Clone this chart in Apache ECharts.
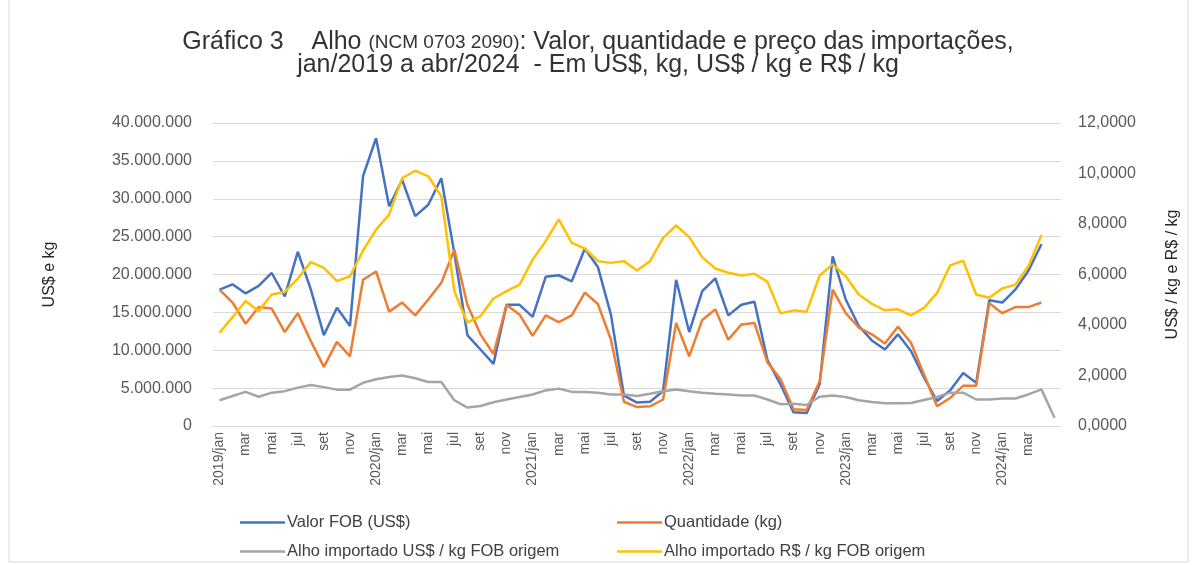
<!DOCTYPE html>
<html>
<head>
<meta charset="utf-8">
<script src="https://cdn.jsdelivr.net/npm/echarts@6/dist/echarts.min.js"></script>
<style>
  html, body { margin: 0; padding: 0; background: #fff; }
  #main { width: 1196px; height: 565px; }
</style>
</head>
<body>
<div id="main"></div>
<script>
// meses jan/2019 .. mai/2024 (65 categorias, a última só tem US$/kg)
var meses = ['jan', 'fev', 'mar', 'abr', 'mai', 'jun', 'jul', 'ago', 'set', 'out', 'nov', 'dez'];
var categorias = [];
for (var a = 2019; a <= 2024; a++) {
    for (var m = 0; m < 12; m++) {
        if (a === 2024 && m > 4) break;
        categorias.push(m === 0 ? a + '/jan' : meses[m]);
    }
}

// valores em milhões (eixo esquerdo)
var valorFOB = [18.0, 18.7, 17.5, 18.5, 20.2, 17.1, 23.0, 18.0, 12.0, 15.6, 13.2,
    33.0, 38.0, 29.0, 32.5, 27.7, 29.2, 32.7, 22.8, 12.0, 10.1, 8.2,
    16.0, 16.0, 14.4, 19.7, 19.9, 19.1, 23.4, 21.0, 14.7, 4.0, 3.1,
    3.2, 4.6, 19.3, 12.4, 17.8, 19.5, 14.6, 16.0, 16.4, 8.7, 5.5,
    1.8, 1.7, 5.5, 22.4, 16.7, 13.2, 11.3, 10.1, 12.1, 9.9, 6.4,
    3.3, 4.7, 7.0, 5.7, 16.6, 16.3, 18.0, 20.5, 24.0];
var quantidade = [18.0, 16.3, 13.5, 15.7, 15.5, 12.4, 14.9, 11.2, 7.8, 11.1, 9.2,
    19.3, 20.4, 15.1, 16.3, 14.6, 16.7, 18.9, 23.3, 16.0, 12.1, 9.5,
    16.0, 14.7, 11.9, 14.6, 13.7, 14.6, 17.6, 16.1, 11.4, 3.2, 2.5,
    2.6, 3.5, 13.6, 9.2, 14.0, 15.4, 11.4, 13.4, 13.6, 8.4, 6.2,
    2.2, 2.1, 5.9, 18.0, 14.9, 13.0, 12.1, 10.9, 13.1, 11.0, 6.8,
    2.6, 3.7, 5.3, 5.3, 16.2, 14.9, 15.7, 15.7, 16.3];

// preços (eixo direito)
var precoUSD = [1.02, 1.19, 1.35, 1.16, 1.32, 1.38, 1.52, 1.62, 1.54, 1.44, 1.44,
    1.71, 1.85, 1.94, 2.00, 1.89, 1.74, 1.74, 1.02, 0.73, 0.79, 0.94,
    1.05, 1.15, 1.25, 1.41, 1.48, 1.35, 1.35, 1.32, 1.25, 1.25, 1.19,
    1.28, 1.38, 1.45, 1.38, 1.32, 1.28, 1.25, 1.21, 1.21, 1.05, 0.86,
    0.88, 0.83, 1.16, 1.21, 1.15, 1.02, 0.95, 0.90, 0.90, 0.91, 1.03,
    1.15, 1.32, 1.32, 1.05, 1.05, 1.09, 1.09, 1.25, 1.45, 0.33];
var precoBRL = [3.69, 4.31, 4.95, 4.55, 5.21, 5.31, 5.84, 6.49, 6.26, 5.74, 5.93,
    6.95, 7.78, 8.37, 9.82, 10.11, 9.89, 9.10, 5.34, 4.09, 4.35, 5.05,
    5.34, 5.60, 6.59, 7.32, 8.18, 7.25, 7.03, 6.53, 6.46, 6.53, 6.16,
    6.53, 7.45, 7.94, 7.48, 6.69, 6.24, 6.07, 5.96, 6.03, 5.71, 4.46,
    4.58, 4.52, 5.96, 6.40, 5.93, 5.21, 4.84, 4.58, 4.62, 4.38, 4.68,
    5.27, 6.36, 6.55, 5.21, 5.08, 5.45, 5.60, 6.33, 7.56];

var MI = 1000000;
var valorUS = valorFOB.map(function (v) { return v * MI; });
var qtdKg = quantidade.map(function (v) { return v * MI; });

function milhar(v) {
    return String(Math.round(v)).replace(/\B(?=(\d{3})+(?!\d))/g, '.');
}

var fonte = '"Liberation Sans", Arial, sans-serif';
var cinza = '#595959';

// uma legenda por item, em grade 2x2 como no original
function legenda(nome, x, y) {
    return {
        left: x,
        top: y,
        icon: 'rect',
        itemWidth: 45,
        itemHeight: 2.5,
        textStyle: { fontSize: 16.5, color: '#404040', padding: [0, 0, 0, -3] },
        data: [nome]
    };
}

var myChart = echarts.init(document.getElementById('main'));
myChart.setOption({
    animation: false,
    textStyle: { fontFamily: fonte },
    title: {
        left: 'center',
        top: 26,
        text: '{a|Gráfico 3    Alho }{b|(NCM 0703 2090)}{a|: Valor, quantidade e preço das importações,}\n{a|jan/2019 a abr/2024  - Em US$, kg, US$ / kg e R$ / kg}',
        textStyle: {
            fontWeight: 'normal',
            rich: {
                a: { fontSize: 25, color: '#333333', fontFamily: fonte, lineHeight: 23 },
                b: { fontSize: 19, color: '#333333', fontFamily: fonte, lineHeight: 23 }
            }
        }
    },
    graphic: [{
        type: 'rect',
        shape: { x: 9, y: -2, width: 1179, height: 564 },
        style: { fill: 'none', stroke: '#d9d9d9', lineWidth: 1 },
        silent: true
    }],
    legend: [
        legenda('Valor FOB (US$)', 235, 509),
        legenda('Quantidade (kg)', 612, 509),
        legenda('Alho importado US$ / kg FOB origem', 235, 538),
        legenda('Alho importado R$ / kg FOB origem', 612, 538)
    ],
    grid: { left: 213, right: 135, top: 123, height: 303, containLabel: false },
    xAxis: {
        type: 'category',
        data: categorias,
        boundaryGap: true,
        axisLine: { lineStyle: { color: '#d9d9d9' } },
        axisTick: { show: false },
        axisLabel: {
            interval: function (i) { return i % 2 === 0 && i < 64; },
            rotate: 90, fontSize: 14, color: cinza, margin: 6
        }
    },
    yAxis: [{
        type: 'value',
        min: 0,
        max: 40000000,
        interval: 5000000,
        name: 'US$ e kg',
        nameLocation: 'middle',
        nameGap: 155,
        nameTextStyle: { fontSize: 16, color: '#262626' },
        axisLine: { show: false },
        axisTick: { show: false },
        axisLabel: { fontSize: 16, color: cinza, margin: 21, formatter: milhar },
        splitLine: { lineStyle: { color: '#d9d9d9' } }
    }, {
        type: 'value',
        min: 0,
        max: 12,
        interval: 2,
        name: 'US$ / kg e R$ / kg',
        nameLocation: 'middle',
        nameGap: 104,
        nameTextStyle: { fontSize: 16, color: '#262626' },
        axisLine: { show: false },
        axisTick: { show: false },
        axisLabel: {
            fontSize: 16, color: cinza, margin: 17,
            formatter: function (v) { return v.toFixed(4).replace('.', ','); }
        },
        splitLine: { show: false }
    }],
    series: [{
        name: 'Valor FOB (US$)',
        type: 'line',
        yAxisIndex: 0,
        data: valorUS,
        symbol: 'none',
        color: '#4472C4',
        lineStyle: { width: 2.5 }
    }, {
        name: 'Quantidade (kg)',
        type: 'line',
        yAxisIndex: 0,
        data: qtdKg,
        symbol: 'none',
        color: '#ED7D31',
        lineStyle: { width: 2.5 }
    }, {
        name: 'Alho importado US$ / kg FOB origem',
        type: 'line',
        yAxisIndex: 1,
        data: precoUSD,
        symbol: 'none',
        color: '#A5A5A5',
        lineStyle: { width: 2.5 }
    }, {
        name: 'Alho importado R$ / kg FOB origem',
        type: 'line',
        yAxisIndex: 1,
        data: precoBRL,
        symbol: 'none',
        color: '#FFC000',
        lineStyle: { width: 2.5 }
    }]
});
</script>
</body>
</html>
